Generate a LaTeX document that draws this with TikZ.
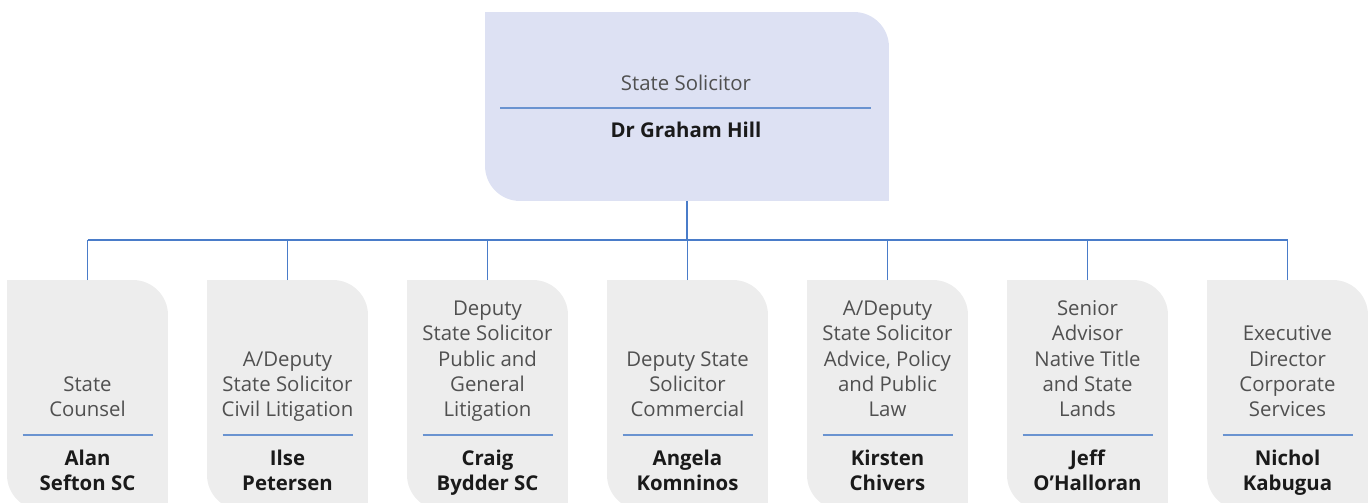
\documentclass[tikz,border=0pt]{standalone}
\usepackage{fontspec}
\setmainfont{Open Sans}
\usepackage{xcolor}
\usetikzlibrary{calc}
\definecolor{headfill}{HTML}{DDE1F3}
\definecolor{tabfill}{HTML}{EDEDED}
\definecolor{linkblue}{HTML}{4A7CC9}
\definecolor{ruleblue}{HTML}{6A93D0}
\definecolor{rolegray}{HTML}{505050}
\definecolor{namedark}{HTML}{1A1A1A}
\tikzset{
  tab/.style={draw=none,inner sep=0pt,outer sep=0pt,minimum width=3.22cm,minimum height=4.6cm},
  role/.style={align=center,inner sep=0pt,text depth=0pt,text=rolegray,font=\fontsize{11.6}{14.4}\selectfont},
  person/.style={align=center,inner sep=0pt,text depth=0pt,text=namedark,font=\fontsize{11.6}{14.4}\selectfont\bfseries},
  link/.style={draw=linkblue,line width=0.85pt},
  rule/.style={draw=ruleblue,line width=1.1pt}
}
% card: top right and bottom left corners rounded
\newcommand{\cardshape}[2]{%
\fill[#2] (#1.north west) -- ([xshift=-0.7cm]#1.north east) arc[start angle=90,end angle=0,radius=0.7cm]
  -- (#1.south east) -- ([xshift=0.7cm]#1.south west) arc[start angle=270,end angle=180,radius=0.7cm] -- cycle;}

\begin{document}
\begin{tikzpicture}[x=0.02cm,y=0.02cm]
\useasboundingbox (0,0) rectangle (1370,503);
\clip (0,0) rectangle (1370,503);

% head
\node[tab,minimum width=8.08cm,minimum height=3.78cm] (head) at (687,396.5) {};
\cardshape{head}{headfill}
\node[role,anchor=south] (headrole) at (686,412) {State Solicitor};
\draw[rule] (500,395)--(871,395);
\node[person,anchor=south] (headname) at (686,365) {Dr Graham Hill};

\coordinate (bus) at (0,263);
\draw[link] (head.south)--(head.south |- bus);

\foreach \x/\title/\name [count=\i] in {
  87.5/{State\\Counsel}/{Alan\\Sefton SC},
  287.5/{A/Deputy\\State Solicitor\\Civil Litigation}/{Ilse\\Petersen},
  487.5/{Deputy\\State Solicitor\\Public and\\General\\Litigation}/{Craig\\Bydder SC},
  687.5/{Deputy State\\Solicitor\\Commercial}/{Angela\\Komninos},
  887.5/{A/Deputy\\State Solicitor\\Advice, Policy\\and Public\\Law}/{Kirsten\\Chivers},
  1087.5/{Senior\\Advisor\\Native Title\\and State\\Lands}/{Jeff\\O’Halloran},
  1287.5/{Executive\\Director\\Corporate\\Services}/{Nichol\\Kabugua}} {
\node[tab] (b\i) at (\x,108) {};
\cardshape{b\i}{tabfill}
\node[role,anchor=south] (t\i) at (\x,86) {\title};
\draw[rule] (\x-65,68)--(\x+65,68);
\node[person,anchor=south] (n\i) at (\x,12) {\name};
\draw[link] (b\i.north)--(b\i.north |- bus);
}
\draw[link] (b1.north |- bus)--(b7.north |- bus);

\end{tikzpicture}
\end{document}
